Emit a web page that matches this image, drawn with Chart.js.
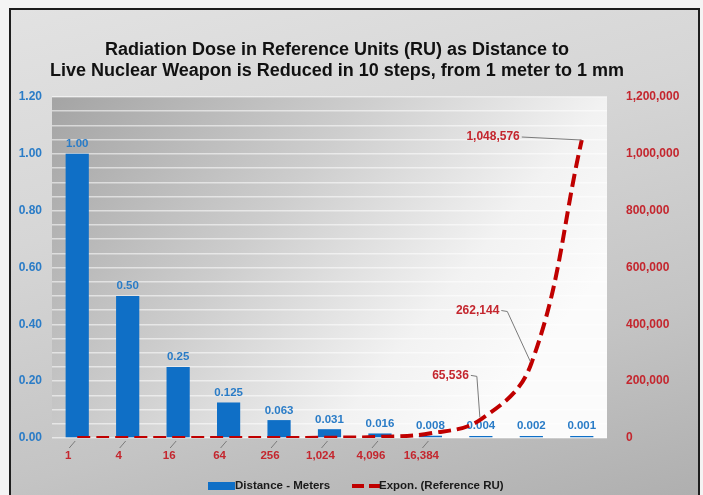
<!DOCTYPE html>
<html>
<head>
<meta charset="utf-8">
<script src="https://cdn.jsdelivr.net/npm/chart.js@4.4.1/dist/chart.umd.min.js"></script>
<style>
  html, body { margin: 0; padding: 0; background: #f4f4f4; }
  #wrap {
    position: relative; width: 703px; height: 495px; overflow: hidden;
  }
  #frame {
    position: absolute; left: 9px; top: 8px; width: 687px; height: 495px;
    border: 2px solid #1e1e1e; border-bottom: none;
    background: linear-gradient(165deg, #e2e2e2 0%, #d6d6d6 35%, #c4c4c4 70%, #aeaeae 100%);
  }
  canvas { position: absolute; left: 0; top: 0; }
</style>
</head>
<body>
<div id="wrap">
  <div id="frame"></div>
  <canvas id="chart" width="703" height="495"></canvas>
</div>
<script>
// chart data
const titleLines = [
    'Radiation Dose in Reference Units (RU) as Distance to',
    'Live Nuclear Weapon is Reduced in 10 steps, from 1 meter to 1 mm'
];
const categories = ['1', '4', '16', '64', '256', '1,024', '4,096', '16,384', '65,536', '262,144', '1,048,576'];
const xTickLabels = ['1', '4', '16', '64', '256', '1,024', '4,096', '16,384', '', '', ''];
const distance = [1.00, 0.50, 0.25, 0.125, 0.063, 0.031, 0.016, 0.008, 0.004, 0.002, 0.001];
const distanceLabels = ['1.00', '0.50', '0.25', '0.125', '0.063', '0.031', '0.016', '0.008', '0.004', '0.002', '0.001'];
const referenceRU = [1, 4, 16, 64, 256, 1024, 4096, 16384, 65536, 262144, 1048576];
const calloutLabels = ['', '', '', '', '', '', '', '', '65,536', '262,144', '1,048,576'];
const seriesNames = ['Distance - Meters', 'Expon. (Reference RU)'];

const BLUE = '#0f6fc6';
const BLUE_TXT = '#2a7cc7';
const RED = '#c00000';
const RED_TXT = '#c4262e';
const FONT = '"Liberation Sans", Arial, sans-serif';

const decorPlugin = {
    id: 'decor',
    beforeDraw(chart) {
        const { ctx, chartArea: a } = chart;
        const g = ctx.createLinearGradient(a.left, a.top, a.left + (a.right - a.left) * 0.75, a.bottom);
        g.addColorStop(0, '#a4a4a4');
        g.addColorStop(0.45, '#cdcdcd');
        g.addColorStop(0.8, '#f2f2f2');
        g.addColorStop(1, '#fbfbfb');
        ctx.save();
        ctx.fillStyle = g;
        ctx.fillRect(a.left, a.top, a.right - a.left, a.bottom - a.top);
        ctx.restore();
    },
    afterDatasetDraw(chart, args) {
        if (args.index !== 0) return;
        // bar value labels (drawn before the line so the line sits on top)
        const { ctx } = chart;
        ctx.save();
        ctx.font = 'bold 11.5px ' + FONT;
        ctx.fillStyle = BLUE_TXT;
        ctx.textAlign = 'center';
        ctx.textBaseline = 'bottom';
        args.meta.data.forEach((el, i) => {
            ctx.fillText(distanceLabels[i], el.x, Math.min(el.y, el.base - 2) - 4);
        });
        ctx.restore();
    },
    afterDraw(chart) {
        const { ctx, chartArea: a, scales } = chart;
        ctx.save();

        // title
        ctx.font = 'bold 18px ' + FONT;
        ctx.fillStyle = '#111';
        ctx.textAlign = 'center';
        ctx.textBaseline = 'middle';
        ctx.fillText(titleLines[0], 337, 50);
        ctx.fillText(titleLines[1], 337, 71);

        // x tick labels with small leader lines
        ctx.font = 'bold 11.5px ' + FONT;
        xTickLabels.forEach((t, i) => {
            if (!t) return;
            const cx = scales.x.getPixelForValue(i);
            ctx.strokeStyle = '#7a7a7a';
            ctx.lineWidth = 1;
            ctx.beginPath();
            ctx.moveTo(cx - 8, a.bottom + 10);
            ctx.lineTo(cx - 2, a.bottom + 3);
            ctx.stroke();
            ctx.fillStyle = RED_TXT;
            ctx.textAlign = 'center';
            ctx.textBaseline = 'middle';
            ctx.fillText(t, cx - 9, a.bottom + 18);
        });

        // callouts on the upper end of the curve
        const offs = { 8: [-8, -44], 9: [-28, -53], 10: [-58, -3] };
        calloutLabels.forEach((t, i) => {
            if (!t) return;
            const px = scales.x.getPixelForValue(i);
            const py = scales.y1.getPixelForValue(referenceRU[i]);
            const [dx, dy] = offs[i];
            const tx = px + dx, ty = py + dy;
            ctx.font = 'bold 12px ' + FONT;
            ctx.fillStyle = RED_TXT;
            ctx.textAlign = 'right';
            ctx.textBaseline = 'middle';
            ctx.fillText(t, tx - 4, ty);
            ctx.strokeStyle = '#7a7a7a';
            ctx.lineWidth = 1;
            ctx.beginPath();
            ctx.moveTo(tx - 2, ty);
            if (i === 10) {
                ctx.lineTo(px, py);
            } else {
                ctx.lineTo(tx + 4, ty + 1);
                ctx.lineTo(px - 1, py - 2);
            }
            ctx.stroke();
        });

        // legend
        const ly = 486;
        ctx.font = 'bold 11.5px ' + FONT;
        ctx.textBaseline = 'middle';
        ctx.textAlign = 'left';
        ctx.fillStyle = BLUE;
        ctx.fillRect(208, ly - 4, 27, 8);
        ctx.fillStyle = '#1a1a1a';
        ctx.fillText(seriesNames[0], 235, ly);
        ctx.strokeStyle = RED;
        ctx.lineWidth = 4;
        ctx.setLineDash([12, 5]);
        ctx.beginPath();
        ctx.moveTo(352, ly);
        ctx.lineTo(380, ly);
        ctx.stroke();
        ctx.setLineDash([]);
        ctx.fillText(seriesNames[1], 379, ly);

        ctx.restore();
    }
};

new Chart(document.getElementById('chart'), {
    type: 'bar',
    data: {
        labels: categories,
        datasets: [
            {
                type: 'bar',
                label: seriesNames[0],
                data: distance,
                yAxisID: 'y',
                backgroundColor: BLUE,
                barPercentage: 0.46,
                categoryPercentage: 1,
                minBarLength: 2,
                order: 1
            },
            {
                type: 'line',
                label: seriesNames[1],
                data: referenceRU,
                yAxisID: 'y1',
                borderColor: RED,
                borderWidth: 4,
                borderDash: [13, 6],
                pointRadius: 0,
                fill: false,
                tension: 0.4,
                order: 0
            }
        ]
    },
    options: {
        responsive: false,
        animation: false,
        layout: { padding: { left: 10, right: 10, top: 97, bottom: 57 } },
        plugins: {
            legend: { display: false },
            title: { display: false },
            tooltip: { enabled: false }
        },
        scales: {
            x: { display: false },
            y: {
                position: 'left',
                min: 0,
                max: 1.2,
                afterFit: s => { s.width = 42; },
                border: { display: false },
                grid: {
                    color: 'rgba(255,255,255,0.55)',
                    lineWidth: 1.5,
                    drawTicks: false
                },
                ticks: {
                    stepSize: 0.05,
                    autoSkip: false,
                    padding: 10,
                    color: BLUE_TXT,
                    font: { family: FONT, size: 12, weight: 'bold' },
                    callback: v => (Math.round(v * 100) % 20 === 0 ? v.toFixed(2) : '')
                }
            },
            y1: {
                position: 'right',
                min: 0,
                max: 1200000,
                afterFit: s => { s.width = 86; },
                border: { display: false },
                grid: { display: false },
                ticks: {
                    stepSize: 200000,
                    padding: 11,
                    color: RED_TXT,
                    font: { family: FONT, size: 12, weight: 'bold' },
                    callback: v => v.toLocaleString('en-US')
                }
            }
        }
    },
    plugins: [decorPlugin]
});
</script>
</body>
</html>
